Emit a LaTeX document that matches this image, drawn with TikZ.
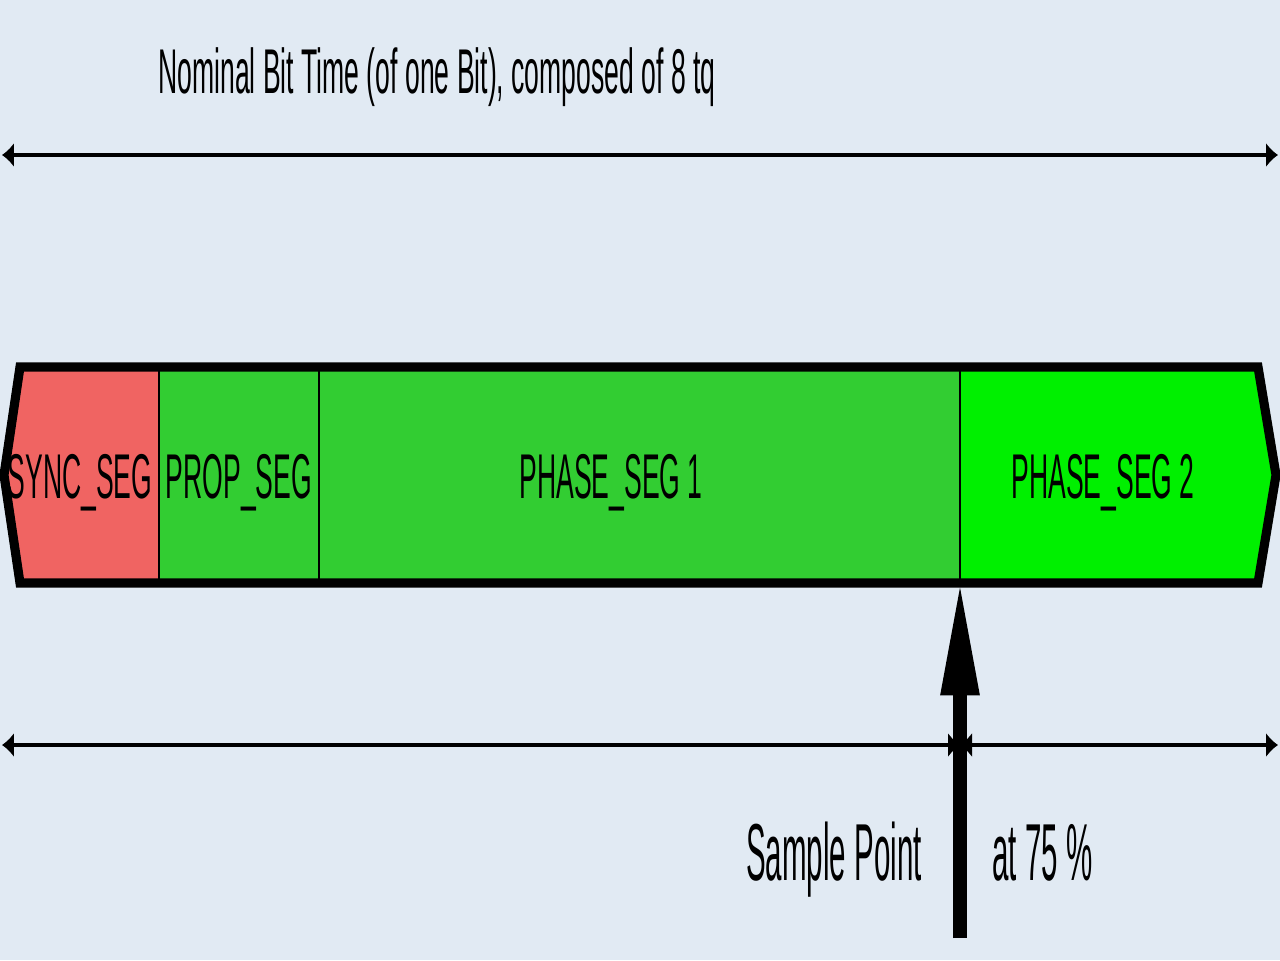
\documentclass[tikz,border=0pt]{standalone}
\usepackage{fontspec}
\setmainfont{Liberation Sans}
\usetikzlibrary{arrows.meta}
\definecolor{bgblue}{RGB}{225,234,243}
\definecolor{syncred}{RGB}{240,100,98}
\definecolor{propgreen}{RGB}{50,205,50}
\definecolor{phasegreen}{RGB}{0,240,0}
\newcommand{\narrow}[2]{\scalebox{#1}[1]{#2}}
\tikzset{
  seglabel/.style={font=\fontsize{36}{36}\selectfont, inner sep=0pt},
  splabel/.style={font=\fontsize{46}{46}\selectfont, inner sep=0pt},
  dimtip/.tip={Latex[length=0.24cm,width=0.5cm]},
  dimline/.style={line width=2.3pt, dimtip-dimtip},
}
\begin{document}
\begin{tikzpicture}[x=0.02cm,y=-0.02cm]
\fill[bgblue] (0,0) rectangle (1280,960);
\useasboundingbox (0,0) rectangle (1280,960);

\node[seglabel, anchor=base west] (title) at (158,93) {\narrow{0.42}{Nominal Bit Time (of one Bit), composed of 8 tq}};

\coordinate (tl) at (2,155);
\coordinate (tr) at (1278,155);
\draw[dimline] (tl) -- (tr);

% segments of the bit
\fill[syncred] (4,475) -- (20,367) -- (159,367) -- (159,583) -- (20,583) -- cycle;
\fill[propgreen] (159,367) rectangle (960,583);
\fill[phasegreen] (960,367) -- (1258,367) -- (1276,475) -- (1258,583) -- (960,583) -- cycle;
\draw[line width=1.2pt] (159,367) -- (159,583) (319,367) -- (319,583) (960,367) -- (960,583);
\draw[line width=5.2pt] (4,475) -- (20,367) -- (1258,367) -- (1276,475) -- (1258,583) -- (20,583) -- cycle;

\node[seglabel, anchor=base] (sync) at (80,498) {\narrow{0.42}{SYNC\_SEG}};
\node[seglabel, anchor=base] (prop) at (239,498) {\narrow{0.42}{PROP\_SEG}};
\node[seglabel, anchor=base] (ph1) at (611,498) {\narrow{0.42}{PHASE\_SEG 1}};
\node[seglabel, anchor=base] (ph2) at (1103,498) {\narrow{0.42}{PHASE\_SEG 2}};

\coordinate (bl) at (2,745);
\coordinate (bm) at (960,745);
\coordinate (br) at (1278,745);
\draw[dimline] (bl) -- (bm);
\draw[dimline] (bm) -- (br);

% sample point
\coordinate (sp) at (960,938);
\coordinate (spt) at (960,578);
\draw[line width=8.5pt, -{Triangle[length=2.35cm,width=0.7cm]}] (sp) -- (spt);

\node[splabel, anchor=base east] (spl) at (922,880) {\narrow{0.365}{Sample Point}};
\node[splabel, anchor=base west] (spr) at (992,880) {\narrow{0.365}{at 75 \%}};
\end{tikzpicture}
\end{document}
